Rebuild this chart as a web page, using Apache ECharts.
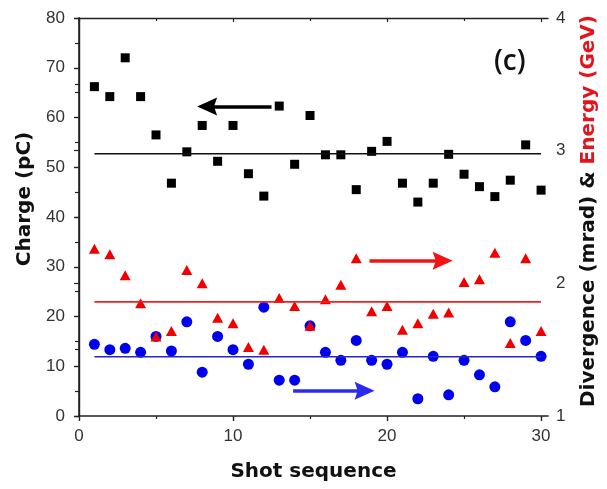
<!DOCTYPE html>
<html>
<head>
<meta charset="utf-8">
<script src="https://cdn.jsdelivr.net/npm/echarts@6/dist/echarts.min.js"></script>
<style>
  html, body { margin: 0; padding: 0; background: #fff; }
  #chart { width: 607px; height: 489px; }
</style>
</head>
<body>
<div id="chart"></div>
<script>
// Shot-by-shot electron beam statistics
const shots = [1, 2, 3, 4, 5, 6, 7, 8, 9, 10, 11, 12, 13, 14, 15,
               16, 17, 18, 19, 20, 21, 22, 23, 24, 25, 26, 27, 28, 29, 30];

// Charge (pC), left axis
const charge = [66.2, 64.2, 72.0, 64.2, 56.5, 46.8, 53.1, 58.4, 51.2, 58.4,
                48.7, 44.2, 62.3, 50.6, 60.4, 52.5, 52.5, 45.5, 53.2, 55.2,
                46.8, 43.0, 46.8, 52.6, 48.6, 46.1, 44.1, 47.4, 54.5, 45.4];

// Energy (GeV), right axis
const energy = [2.26, 2.22, 2.06, 1.85, 1.60, 1.64, 2.10, 2.00, 1.74, 1.70,
                1.52, 1.50, 1.89, 1.83, 1.68, 1.88, 1.99, 2.19, 1.79, 1.83,
                1.65, 1.70, 1.77, 1.78, 2.01, 2.03, 2.23, 1.55, 2.19, 1.64];

// Divergence (mrad), right axis
const divergence = [1.54, 1.50, 1.51, 1.48, 1.60, 1.49, 1.71, 1.33, 1.60, 1.50,
                    1.39, 1.82, 1.27, 1.27, 1.68, 1.48, 1.42, 1.57, 1.42, 1.39,
                    1.48, 1.13, 1.45, 1.16, 1.42, 1.31, 1.22, 1.71, 1.57, 1.45];

// Average levels drawn as horizontal lines across the shot range
const meanRange = [1, 30];
const meanCharge = 52.7;
const meanEnergy = 1.86;
const meanDivergence = 1.447;

// Arrows pointing to the axis each group belongs to: [tail, head centre] in data units
const chargeArrow = [[12.5, 62.2], [8.32, 62.2]];
const energyArrow = [[18.86, 2.17], [23.61, 2.17]];
const divergenceArrow = [[13.9, 1.19], [18.54, 1.19]];

// Axis tick values
const xTicks = [0, 10, 20, 30];
const chargeTicks = [0, 10, 20, 30, 40, 50, 60, 70, 80];
const rightTicks = [1, 2, 3, 4];

const pairs = (ys) => shots.map((s, i) => [s, ys[i]]);
const flat = (v) => meanRange.map((x) => [x, v]);

const axisColor = '#222';
const labelColor = '#333';
const tickFont = { color: labelColor, fontSize: 17, fontFamily: 'Liberation Sans' };
const nameFont = { color: '#111', fontSize: 20, fontWeight: 'bold', fontFamily: 'DejaVu Sans' };

// Solid arrowhead with a shallow notch, tip at the top
const arrowHead = 'path://M10,0 L20,22 L10,18.5 L0,22 Z';

function arrowLine(pts, color) {
  return {
    silent: true,
    animation: false,
    symbol: ['none', arrowHead],
    symbolSize: [18, 20],
    lineStyle: { color: color, width: 3.5, type: 'solid', opacity: 1 },
    itemStyle: { color: color },
    label: { show: false },
    emphasis: { disabled: true },
    data: [[{ coord: pts[0] }, { coord: pts[1] }]]
  };
}

const chart = echarts.init(document.getElementById('chart'), null, { renderer: 'canvas' });

chart.setOption({
  animation: false,
  backgroundColor: '#fff',
  grid: { left: 79, right: 58, top: 18, bottom: 73, containLabel: false },
  graphic: [{
    type: 'text',
    left: 494,
    top: 48,
    style: { text: '(c)', fontSize: 28, fontWeight: 600, fontFamily: 'Open Sans', fill: '#111' }
  }],
  xAxis: [{
    type: 'value',
    position: 'bottom',
    min: xTicks[0],
    max: 30.45,
    interval: 10,
    name: 'Shot sequence',
    nameLocation: 'middle',
    nameGap: 46,
    nameTextStyle: nameFont,
    axisLine: { show: true, lineStyle: { color: axisColor, width: 1.6 } },
    axisTick: { show: true, inside: false, length: 5, lineStyle: { color: axisColor, width: 1.4 },
                customValues: xTicks },
    minorTick: { show: true, splitNumber: 2, length: 3, lineStyle: { color: axisColor, width: 1.2 } },
    axisLabel: { ...tickFont, margin: 12, customValues: xTicks },
    splitLine: { show: false }
  }, {
    type: 'value',
    position: 'top',
    min: xTicks[0],
    max: 30.45,
    interval: 10,
    axisLine: { show: true, lineStyle: { color: axisColor, width: 1.4 } },
    axisTick: { show: true, inside: true, length: 4, lineStyle: { color: axisColor, width: 1.2 },
                customValues: xTicks },
    minorTick: { show: true, splitNumber: 2, length: 3, lineStyle: { color: axisColor, width: 1.2 } },
    axisLabel: { show: false },
    splitLine: { show: false }
  }],
  yAxis: [{
    type: 'value',
    position: 'left',
    min: chargeTicks[0],
    max: chargeTicks[chargeTicks.length - 1],
    interval: 10,
    name: 'Charge (pC)',
    nameLocation: 'middle',
    nameGap: 40,
    nameTextStyle: { ...nameFont, padding: [0, 0, 0, 36] },
    axisLine: { show: true, lineStyle: { color: axisColor, width: 1.6 } },
    axisTick: { show: true, inside: false, length: 5, lineStyle: { color: axisColor, width: 1.4 } },
    minorTick: { show: true, splitNumber: 2, length: 4, lineStyle: { color: axisColor, width: 1.2 } },
    axisLabel: { ...tickFont, margin: 14 },
    splitLine: { show: false }
  }, {
    type: 'value',
    position: 'right',
    min: rightTicks[0],
    max: rightTicks[rightTicks.length - 1],
    interval: 1,
    name: '{k|Divergence (mrad) & }{r|Energy (GeV)}',
    nameLocation: 'middle',
    nameGap: 31,
    nameRotate: 90,
    nameTextStyle: {
      ...nameFont,
      padding: [0, 0, 0, 12],
      rich: {
        k: { color: '#111', fontSize: 20, fontWeight: 'bold', fontFamily: 'DejaVu Sans' },
        r: { color: '#e3141b', fontSize: 20, fontWeight: 'bold', fontFamily: 'DejaVu Sans' }
      }
    },
    axisLine: { show: true, lineStyle: { color: axisColor, width: 1.4 } },
    axisTick: { show: true, inside: true, length: 5, lineStyle: { color: axisColor, width: 1.2 } },
    minorTick: { show: true, splitNumber: 2, length: 4, lineStyle: { color: axisColor, width: 1.2 } },
    axisLabel: { ...tickFont, margin: 8 },
    splitLine: { show: false }
  }],
  series: [
    {
      name: 'Charge mean',
      type: 'line',
      xAxisIndex: 0, yAxisIndex: 0,
      data: flat(meanCharge),
      symbol: 'none',
      lineStyle: { color: '#111', width: 1.6 },
      silent: true
    },
    {
      name: 'Energy mean',
      type: 'line',
      xAxisIndex: 0, yAxisIndex: 1,
      data: flat(meanEnergy),
      symbol: 'none',
      lineStyle: { color: '#f02020', width: 1.6 },
      silent: true
    },
    {
      name: 'Divergence mean',
      type: 'line',
      xAxisIndex: 0, yAxisIndex: 1,
      data: flat(meanDivergence),
      symbol: 'none',
      lineStyle: { color: '#2525d0', width: 1.6 },
      silent: true
    },
    {
      name: 'Charge',
      type: 'scatter',
      xAxisIndex: 0, yAxisIndex: 0,
      data: pairs(charge),
      symbol: 'rect',
      symbolSize: 9,
      itemStyle: { color: '#000', opacity: 1 },
      markLine: arrowLine(chargeArrow, '#000')
    },
    {
      name: 'Divergence',
      type: 'scatter',
      xAxisIndex: 0, yAxisIndex: 1,
      data: pairs(divergence),
      symbol: 'circle',
      symbolSize: 11,
      itemStyle: { color: '#0000f0', opacity: 1 },
      markLine: arrowLine(divergenceArrow, '#2b2bf0')
    },
    {
      name: 'Energy',
      type: 'scatter',
      xAxisIndex: 0, yAxisIndex: 1,
      data: pairs(energy),
      symbol: 'triangle',
      symbolSize: [11, 10],
      itemStyle: { color: '#f00000', opacity: 1 },
      markLine: arrowLine(energyArrow, '#f01414')
    }
  ]
});
</script>
</body>
</html>
